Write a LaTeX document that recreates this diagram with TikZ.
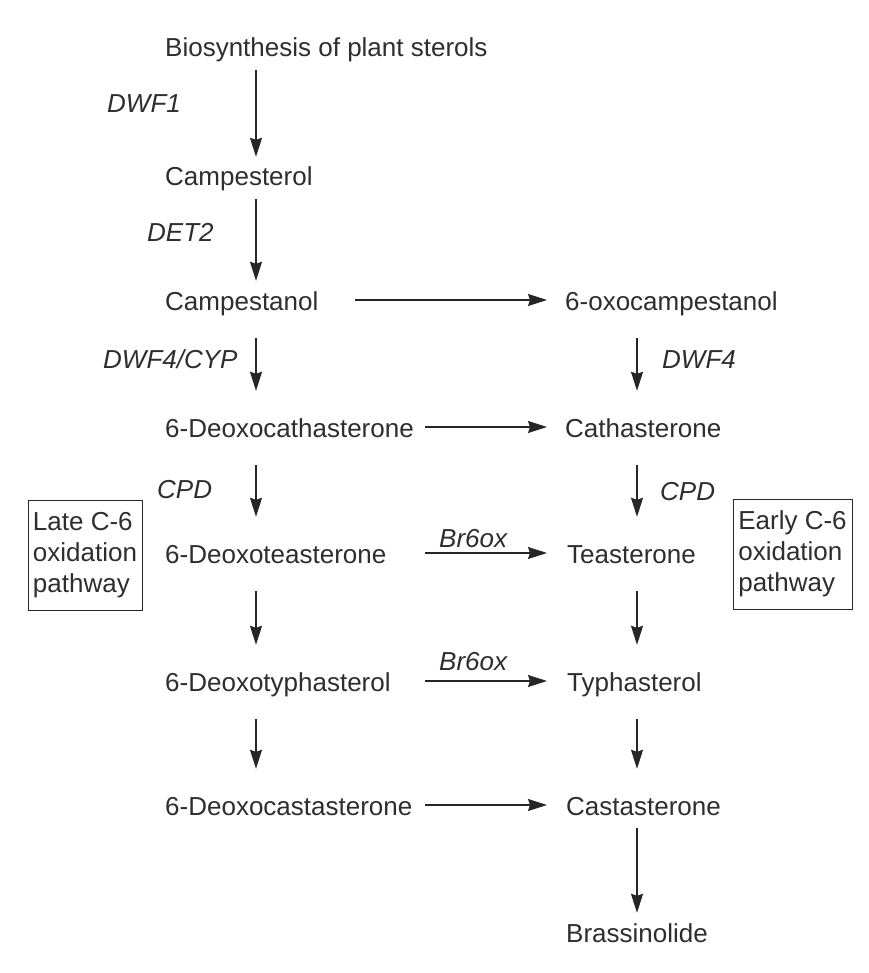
\documentclass[tikz,border=0pt]{standalone}
\usepackage{fontspec}
\setmainfont{Liberation Sans}
\usetikzlibrary{arrows.meta}

\definecolor{txt}{HTML}{2E2E2E}
\definecolor{ln}{HTML}{262626}

\begin{document}
\begin{tikzpicture}[x=1pt, y=-1pt, >={Stealth[length=19pt,width=12pt,inset=2pt]},
    font=\fontsize{26}{31}\selectfont, text=txt,
    cmp/.style={anchor=west, inner sep=0pt, text height=23pt, text depth=3pt},
    enz/.style={cmp, font=\fontsize{26}{31}\selectfont\itshape},
    flow/.style={->, line width=1.4pt, draw=ln},
    gaplong/.style={shorten <=10pt, shorten >=6pt},
    gapshort/.style={shorten <=25pt, shorten >=23pt},
    pathbox/.style={draw=ln, line width=1pt, align=left, inner sep=0pt,
      minimum height=110pt}]
  \useasboundingbox[fill=white] (0,0) rectangle (868,973);

  % columns of the arrows
  \coordinate (lcol) at (256,0);
  \coordinate (rcol) at (637,0);
  \coordinate (hs0) at (355,0);
  \coordinate (hs) at (425,0);
  \coordinate (he) at (547,0);

  % --- compounds ---
  \node[cmp] (bio) at (165,47) {Biosynthesis of plant sterols};
  \node[cmp] (camp) at (165,176) {Campesterol};
  \node[cmp] (cpn) at (165,300) {Campestanol};
  \node[cmp] (oxo) at (565,300) {6-oxocampestanol};
  \node[cmp] (dct) at (165,427) {6-Deoxocathasterone};
  \node[cmp] (ct) at (565,427) {Cathasterone};
  \node[cmp] (dte) at (165,553) {6-Deoxoteasterone};
  \node[cmp] (te) at (567,553) {Teasterone};
  \node[cmp] (dty) at (165,681) {6-Deoxotyphasterol};
  \node[cmp] (ty) at (567,681) {Typhasterol};
  \node[cmp] (dcs) at (165,805) {6-Deoxocastasterone};
  \node[cmp] (cs) at (566,805) {Castasterone};
  \node[cmp] (bl) at (566,932) {Brassinolide};

  % --- enzymes ---
  \node[enz] (dwf1) at (107,103) {DWF1};
  \node[enz] (det2) at (147,232) {DET2};
  \node[enz] (cyp) at (103,358) {DWF4/CYP};
  \node[enz] (dwf4) at (662,358) {DWF4};
  \node[enz] (cpdl) at (157,488) {CPD};
  \node[enz] (cpdr) at (660,490) {CPD};
  \node[enz] (brte) at (439,537) {Br6ox};
  \node[enz] (brty) at (439,660) {Br6ox};

  % --- pathway boxes ---
  \node[pathbox, minimum width=114pt] (late) at (85,555)
    {Late C-6\\oxidation\\pathway};
  \node[pathbox, minimum width=119pt] (early) at (792.5,554)
    {Early C-6\\oxidation\\pathway};

  % --- left column ---
  \draw[flow, gaplong] (lcol |- bio.south) -- (lcol |- camp.north);
  \draw[flow, gaplong] (lcol |- camp.south) -- (lcol |- cpn.north);
  \draw[flow, gapshort] (lcol |- cpn.south) -- (lcol |- dct.north);
  \draw[flow, gapshort] (lcol |- dct.south) -- (lcol |- dte.north);
  \draw[flow, gapshort] (lcol |- dte.south) -- (lcol |- dty.north);
  \draw[flow, gapshort] (lcol |- dty.south) -- (lcol |- dcs.north);

  % --- right column ---
  \draw[flow, gapshort] (rcol |- oxo.south) -- (rcol |- ct.north);
  \draw[flow, gapshort] (rcol |- ct.south) -- (rcol |- te.north);
  \draw[flow, gapshort] (rcol |- te.south) -- (rcol |- ty.north);
  \draw[flow, gapshort] (rcol |- ty.south) -- (rcol |- cs.north);
  \draw[flow, gaplong] (rcol |- cs.south) -- (rcol |- bl.north);

  % --- across ---
  \draw[flow] (hs0 |- cpn.east) -- (he |- oxo.west);
  \draw[flow] (hs |- dct.east) -- (he |- ct.west);
  \draw[flow] (hs |- dte.east) -- (he |- te.west);
  \draw[flow] (hs |- dty.east) -- (he |- ty.west);
  \draw[flow] (hs |- dcs.east) -- (he |- cs.west);
\end{tikzpicture}
\end{document}
